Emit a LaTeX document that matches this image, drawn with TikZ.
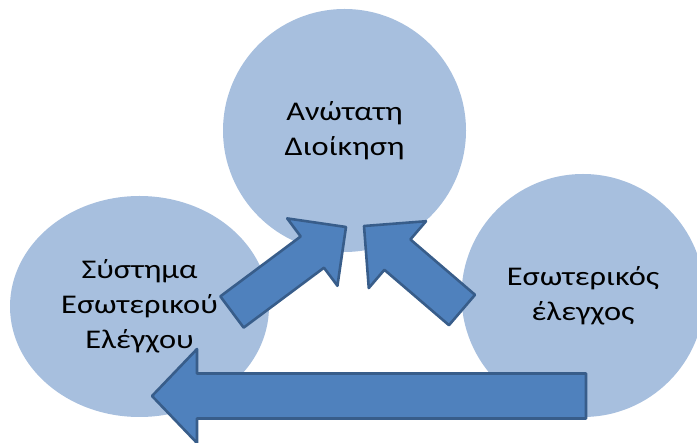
\documentclass[tikz,border=0pt]{standalone}
\usepackage{fontspec}
\setmainfont{Carlito}[FakeStretch=1.2]
\usetikzlibrary{shapes.geometric,calc}
\definecolor{bubblefill}{HTML}{A7BFDE}
\definecolor{arrowfill}{HTML}{4F81BD}
\definecolor{arrowline}{HTML}{385D8A}

\begin{document}
\begin{tikzpicture}[x=1pt,y=-1pt,font=\fontsize{27}{35}\selectfont]
  \tikzstyle{bubble}=[ellipse, fill=bubblefill, inner sep=0pt, align=center]
  \tikzstyle{blockarrow}=[fill=arrowfill, draw=arrowline, line width=2.6pt, line join=round]

  \clip (0,0) rectangle (697,443);

  \node[bubble, minimum width=243pt, minimum height=243pt] (mgmt) at (344.5,130.5) {Ανώτατη\\Διοίκηση};
  \node[bubble, minimum width=259pt, minimum height=221pt] (system) at (139.5,306.5) {Σύστημα\\Εσωτερικού\\Ελέγχου};
  \node[bubble, minimum width=243pt, minimum height=243pt] (audit) at (583,295.5) {Εσωτερικός\\έλεγχος};

  % tails and tips of the three arrows
  \coordinate (sys-tail) at (232,312);
  \coordinate (sys-tip) at (346,227);
  \coordinate (aud-tail) at (462,310);
  \coordinate (aud-tip) at (364,226);
  \coordinate (back-tail) at (586,396);
  \coordinate (back-tip) at (152,396);

  \foreach \from/\to/\sh/\hh/\hl in {
    sys-tail/sys-tip/19.5pt/42pt/42pt,
    aud-tail/aud-tip/20pt/44pt/44pt,
    back-tail/back-tip/22.5pt/47pt/45pt
  } {
    \coordinate (\to-base) at ($(\to)!\hl!(\from)$);
    \draw[blockarrow]
      ($(\from)!\sh!90:(\to)$) -- ($(\to-base)!\sh!90:(\to)$) --
      ($(\to-base)!\hh!90:(\to)$) -- (\to) --
      ($(\to-base)!\hh!-90:(\to)$) -- ($(\to-base)!\sh!-90:(\to)$) --
      ($(\from)!\sh!-90:(\to)$) -- cycle;
  }
\end{tikzpicture}
\end{document}
